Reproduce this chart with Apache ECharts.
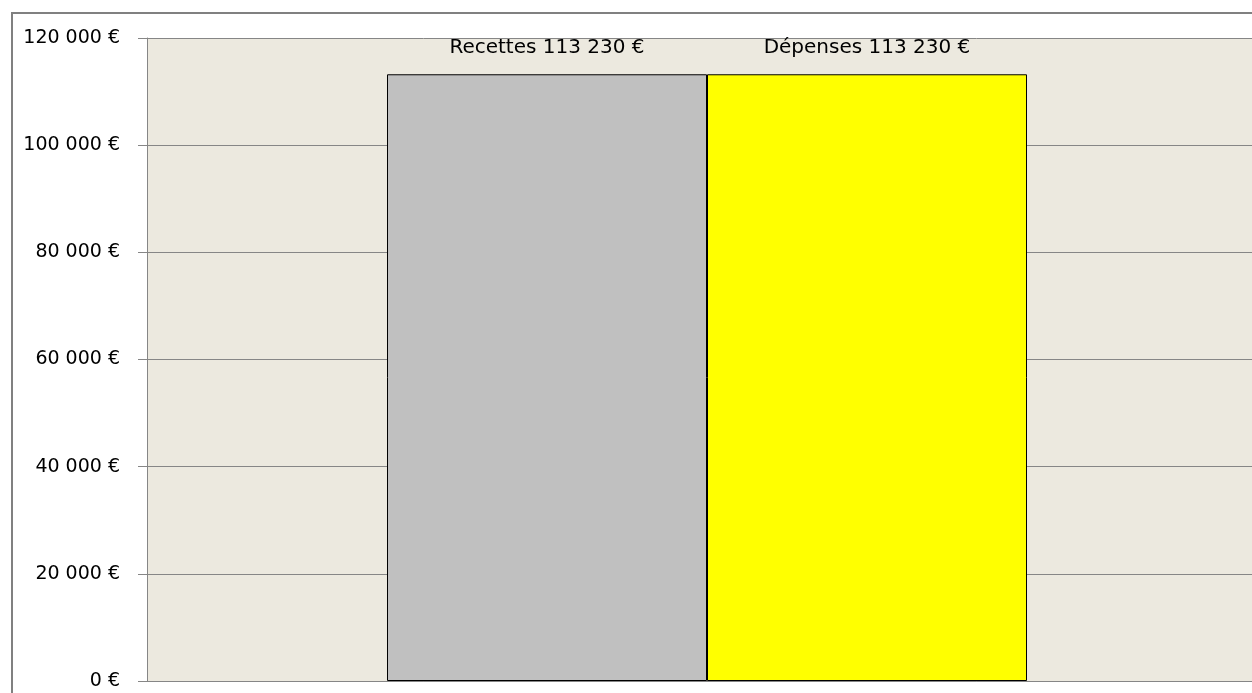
<!DOCTYPE html>
<html>
<head>
<meta charset="utf-8">
<script src="https://cdn.jsdelivr.net/npm/echarts@6/dist/echarts.min.js"></script>
<style>
html,body{margin:0;padding:0;background:#fff;}
#c{width:1252px;height:693px;}
</style>
</head>
<body>
<div id="c"></div>
<script>
const categories = [''];
const seriesNames = ['Recettes', 'Dépenses'];
const recettes = [113230];
const depenses = [113230];
const yTicks = [0, 20000, 40000, 60000, 80000, 100000, 120000];

function fmt(v){
  return String(v).replace(/\B(?=(\d{3})+(?!\d))/g, ' ') + ' €';
}

const chart = echarts.init(document.getElementById('c'));
const font = '"DejaVu Sans", sans-serif';
const labelOpt = (name) => ({
  show: true,
  position: 'top',
  distance: 16,
  color: '#000',
  fontFamily: font,
  fontWeight: 'normal',
  fontSize: 20,
  formatter: (p) => name + ' ' + fmt(p.value)
});
chart.setOption({
  backgroundColor: '#fff',
  animation: false,
  graphic: [{
    type: 'rect',
    shape: {x: 12, y: 13, width: 1400, height: 900},
    style: {fill: 'none', stroke: '#808080', lineWidth: 2},
    z: 100
  }],
  grid: {
    left: 147, right: -15, top: 38, bottom: 12,
    outerBoundsMode: 'none',
    show: true, backgroundColor: '#ECE9DF', borderWidth: 0
  },
  xAxis: {
    type: 'category',
    data: categories,
    axisLine: {show: true, lineStyle: {color: '#868686', width: 1}},
    axisTick: {show: false},
    axisLabel: {show: false}
  },
  yAxis: {
    type: 'value',
    min: yTicks[0],
    max: yTicks[yTicks.length - 1],
    interval: yTicks[1] - yTicks[0],
    axisLine: {show: true, lineStyle: {color: '#868686', width: 1}},
    axisTick: {show: true, length: 9, lineStyle: {color: '#868686'}},
    splitLine: {show: true, lineStyle: {color: '#868686', width: 1}},
    axisLabel: {
      color: '#000', fontFamily: font, fontWeight: 'normal', fontSize: 19, margin: 27,
      formatter: fmt
    }
  },
  series: [
    {
      name: seriesNames[0], type: 'bar', data: recettes,
      barGap: '0%', barWidth: 320,
      itemStyle: {color: '#C0C0C0', borderColor: '#000', borderWidth: 1},
      label: labelOpt(seriesNames[0])
    },
    {
      name: seriesNames[1], type: 'bar', data: depenses,
      barGap: '0%', barWidth: 320,
      itemStyle: {color: '#FFFF00', borderColor: '#000', borderWidth: 1},
      label: labelOpt(seriesNames[1])
    }
  ]
});
</script>
</body>
</html>
